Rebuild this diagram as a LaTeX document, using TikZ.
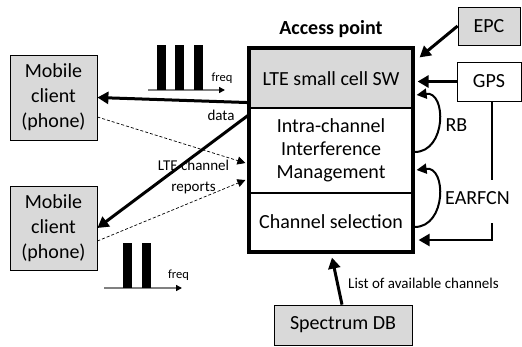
\documentclass[tikz,border=0pt]{standalone}
\usepackage{fontspec}
\setmainfont{Carlito}
\usetikzlibrary{arrows.meta,fit,calc}
\definecolor{boxgray}{HTML}{D9D9D9}
\definecolor{axisgray}{HTML}{808080}

\begin{document}
\begin{tikzpicture}[x=1pt,y=-1pt,
  bigtext/.style={font=\fontsize{20}{24}\selectfont},
  smalltext/.style={font=\fontsize{15}{18}\selectfont},
  tinytext/.style={font=\fontsize{12.5}{15}\selectfont},
  apsection/.style={draw, line width=1.2pt, minimum width=162pt, inner sep=0pt, bigtext, align=center},
  clientbox/.style={draw, line width=0.8pt, fill=boxgray, minimum width=87pt, minimum height=85pt,
    align=center, font=\fontsize{20}{25}\selectfont},
  extbox/.style={draw, line width=0.8pt, bigtext},
  thicklink/.style={line width=3pt, -{Triangle[length=11pt,width=12pt]}},
  fbarc/.style={line width=2pt, -{Triangle[length=10pt,width=10pt]}},
  reportlink/.style={line width=0.7pt, dash pattern=on 3pt off 2pt, -{Triangle[length=8pt,width=8pt]}},
  freqaxis/.style={line width=1.5pt, draw=axisgray, -{Triangle[length=6pt,width=6pt,color=black]}},
]
\useasboundingbox (0,0) rectangle (522,346);

% access point: three stacked sections inside a heavy frame
\node[apsection, fill=boxgray, minimum height=59pt] (sw) at (331,78.5) {LTE small cell SW};
\node[apsection, minimum height=85pt, font=\fontsize{20}{23}\selectfont] (icim) at (331,150.5)
  {Intra-channel\\Interference\\Management};
\node[apsection, minimum height=58pt] (chsel) at (331,222) {Channel selection};
\node[fit=(sw)(chsel), inner sep=0pt, draw, line width=4pt] (ap) {};
\node[font=\bfseries\fontsize{20}{24}\selectfont] (aptitle) at (331,29) {Access point};

% mobile clients
\node[clientbox] (m1) at (53.5,97.5) {Mobile\\client\\(phone)};
\node[clientbox, minimum height=84pt] (m2) at (53.5,228) {Mobile\\client\\(phone)};

% external entities
\node[extbox, fill=boxgray, minimum width=62pt, minimum height=38pt] (epc) at (489,26) {EPC};
\node[extbox, fill=white, minimum width=64pt, minimum height=39pt] (gps) at (489,81.5) {GPS};
\node[extbox, fill=boxgray, minimum width=138pt, minimum height=40pt] (sdb) at (343,325) {Spectrum DB};

% inputs on the right
\draw[thicklink] (epc.west) -- ([shift={(5,11)}]ap.north east);
\draw[thicklink] (gps.west) -- ([xshift=3pt]ap.east |- gps.west);
\node[bigtext] (earfcn) at (477.5,198) {EARFCN};
\draw[line width=2.5pt] ([xshift=3pt]gps.south) -- ([shift={(3,79)}]gps.south);
\draw[line width=2.5pt, -{Triangle[length=11pt,width=12pt]}]
  ([shift={(3,122)}]gps.south) |- ([shift={(6,18)}]chsel.east);

% internal feedback arcs
\draw[fbarc] ([shift={(2,1.5)}]icim.east) .. controls +(32,0) and +(30,-4) .. ([shift={(4,16.5)}]sw.east);
\node[bigtext] (rb) at (456.5,125) {RB};
\draw[fbarc] ([shift={(2,5)}]chsel.east) .. controls +(32,0) and +(30,-4) .. ([shift={(4,19.5)}]icim.east);

% downlink data and channel reports
\draw[thicklink] ([shift={(0,-6)}]sw.south west) -- (m1.east);
\draw[thicklink] ([shift={(0,7)}]icim.north west) -- (m2.east);
\node[smalltext] (datalbl) at (221,115) {data};
\draw[reportlink] ([shift={(0,19.5)}]m1.east) -- ([shift={(-4,12.5)}]icim.west);
\draw[reportlink] ([shift={(0,13)}]m2.east) -- ([shift={(-4,29.5)}]icim.west);
\node[align=center, font=\fontsize{15}{21}\selectfont] (replbl) at (193.5,176.5) {LTE channel\\reports};

% spectrum database input
\draw[thicklink] ([xshift=-1pt]sdb.north) -- ([shift={(1,4)}]ap.south);
\node[smalltext] (listlbl) at (423.5,283) {List of available channels};

% channel occupancy sketches
\draw[freqaxis] (148,90) -- (225,90);
\fill (157,45) rectangle (166,90);
\fill (175,45) rectangle (184,90);
\fill (194,45) rectangle (203,90);
\node[tinytext] (freqa) at (222,78) {freq};

\draw[freqaxis] (104,288) -- (182,288);
\fill (123,243) rectangle (132,288);
\fill (142,243) rectangle (151,288);
\node[tinytext] (freqb) at (178.5,275) {freq};
\end{tikzpicture}
\end{document}
